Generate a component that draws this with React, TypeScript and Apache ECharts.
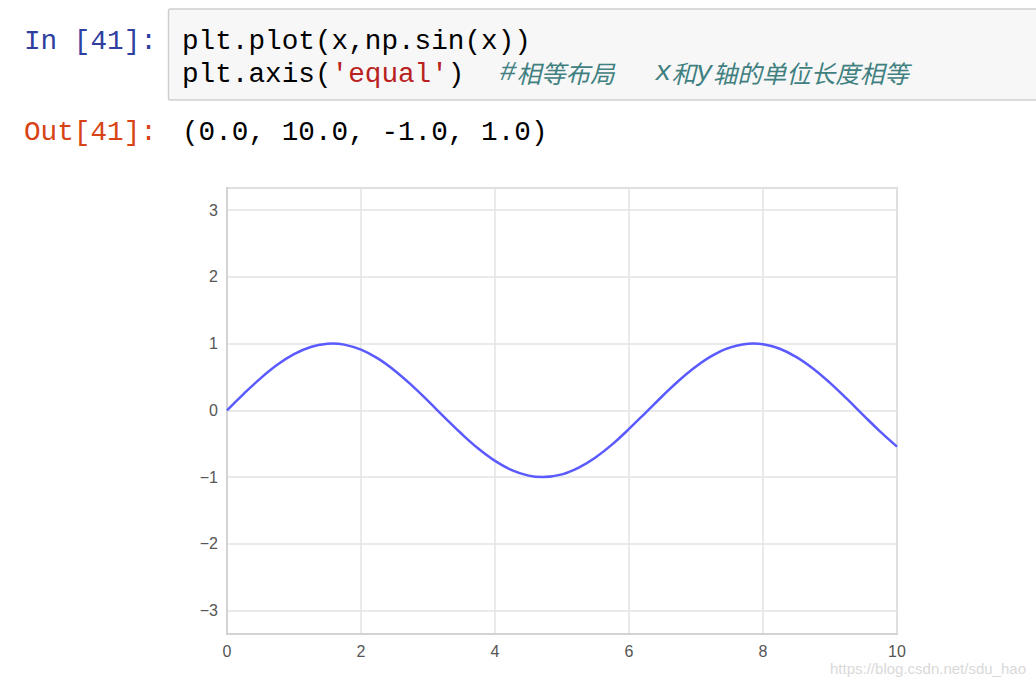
import React, { useEffect, useRef } from "react";
import * as echarts from "echarts";

// Sampled curve: x positions and y = sin(x) read at each x (crests and trough included)
const xValues = [
  0, 0.25, 0.5, 0.75, 1, 1.25, 1.5, 1.57, 1.75, 2, 2.25, 2.5, 2.75, 3, 3.25, 3.5, 3.75,
  4, 4.25, 4.5, 4.71, 5, 5.25, 5.5, 5.75, 6, 6.25, 6.5, 6.75, 7, 7.25, 7.5, 7.85,
  8, 8.25, 8.5, 8.75, 9, 9.25, 9.5, 9.75, 10,
];
const yValues = [
  0, 0.247, 0.479, 0.682, 0.841, 0.949, 0.997, 1.0, 0.984, 0.909, 0.778, 0.598, 0.382,
  0.141, -0.108, -0.351, -0.572, -0.757, -0.895, -0.978, -1.0, -0.959, -0.859,
  -0.706, -0.51, -0.279, -0.033, 0.215, 0.451, 0.657, 0.823, 0.938, 1.0, 0.989,
  0.923, 0.798, 0.624, 0.412, 0.174, -0.075, -0.319, -0.544,
];

// Axis limits
const xRange = [0, 10];
const yRange = [-3.35, 3.33];

// Notebook cell texts
const inPrompt = "In [41]:";
const outPrompt = "Out[41]:";
const codeLine1 = "plt.plot(x,np.sin(x))";
const outText = "(0.0, 10.0, -1.0, 1.0)";
const watermark = "https://blog.csdn.net/sdu_hao";

const MONO = "'Liberation Mono', 'DejaVu Sans Mono', monospace";
const SANS = "'Liberation Sans', Arial, sans-serif";
const CJK = "'Noto Sans CJK SC', sans-serif";
const MONO_SIZE = 27.7;

export default function App() {
  const ref = useRef<HTMLDivElement>(null);

  useEffect(() => {
    if (!ref.current) return;
    const chart = echarts.init(ref.current, null, { renderer: "svg" });

    const mono = (fill: string, italic = false) => ({
      fontFamily: MONO,
      fontSize: MONO_SIZE,
      fontStyle: italic ? "italic" : "normal",
      fill,
    });
    const cjk = (fill: string) => ({
      fontFamily: CJK,
      fontSize: 24.5,
      fontStyle: "italic",
      fill,
    });
    const commentColor = "#408080";

    const option: any = {
      animation: false,
      backgroundColor: "#ffffff",
      grid: {
        left: 227,
        top: 188,
        width: 670,
        height: 446,
        show: true,
        borderColor: "#d3d3d3",
        borderWidth: 2,
        backgroundColor: "transparent",
      },
      xAxis: {
        type: "value",
        min: xRange[0],
        max: xRange[1],
        interval: 2,
        axisLine: { show: true, onZero: false, lineStyle: { color: "#d3d3d3", width: 2 } },
        axisTick: { show: false },
        splitLine: { show: true, lineStyle: { color: "#e3e3e3", width: 1.5 } },
        axisLabel: {
          color: "#555555",
          fontSize: 16,
          fontFamily: SANS,
          margin: 9,
        },
      },
      yAxis: {
        type: "value",
        min: yRange[0],
        max: yRange[1],
        splitNumber: 6,
        axisLine: { show: true, onZero: false, lineStyle: { color: "#d3d3d3", width: 2 } },
        axisTick: { show: false },
        splitLine: { show: true, lineStyle: { color: "#e3e3e3", width: 1.5 } },
        axisLabel: {
          color: "#555555",
          fontSize: 16,
          fontFamily: SANS,
          margin: 9,
          showMinLabel: false,
          showMaxLabel: false,
          formatter: (v: number) => {
            if (Math.abs(v - Math.round(v)) > 1e-6) return "";
            const n = Math.round(v);
            return n < 0 ? "\u2212" + Math.abs(n) : String(n);
          },
        },
      },
      series: [
        {
          type: "line",
          data: xValues.map((x, i) => [x, yValues[i]]),
          showSymbol: false,
          smooth: 0.4,
          lineStyle: { color: "#5a5aff", width: 2.5, join: "round" },
        },
      ],
      graphic: [
        // code cell box
        {
          type: "rect",
          shape: { x: 168.5, y: 9, width: 880, height: 91, r: 2 },
          style: { fill: "#f7f7f7", stroke: "#cfcfcf", lineWidth: 1.5 },
          z: 0,
        },
        {
          type: "text",
          x: 24,
          y: 41,
          style: { text: inPrompt, ...mono("#303f9f"), verticalAlign: "middle" },
        },
        {
          type: "text",
          x: 182,
          y: 41,
          style: { text: codeLine1, ...mono("#000000"), verticalAlign: "middle" },
        },
        {
          type: "text",
          x: 182,
          y: 74,
          style: {
            text: "{k|plt.axis(}{s|'equal'}{k|)}",
            verticalAlign: "middle",
            rich: { k: mono("#000000"), s: mono("#ba2121") },
          },
        },
        {
          type: "text",
          x: 500,
          y: 72,
          style: {
            text: "{h|#}{c|相等布局}",
            verticalAlign: "middle",
            rich: { h: mono(commentColor, true), c: cjk(commentColor) },
          },
        },
        {
          type: "text",
          x: 655,
          y: 72,
          style: {
            text: "{h|x}{c|和}{h|y}{c|轴的单位长度相等}",
            verticalAlign: "middle",
            rich: { h: mono(commentColor, true), c: cjk(commentColor) },
          },
        },
        {
          type: "text",
          x: 24,
          y: 132,
          style: { text: outPrompt, ...mono("#d84315"), verticalAlign: "middle" },
        },
        {
          type: "text",
          x: 182,
          y: 132,
          style: { text: outText, ...mono("#000000"), verticalAlign: "middle" },
        },
        {
          type: "text",
          x: 1026,
          y: 668,
          style: {
            text: watermark,
            fontFamily: SANS,
            fontSize: 15,
            fill: "#d9d9d9",
            align: "right",
            verticalAlign: "middle",
          },
        },
      ],
    };

    chart.setOption(option);
    return () => chart.dispose();
  }, []);

  return (
    <div
      ref={ref}
      style={{ position: "fixed", left: 0, top: 0, width: 1036, height: 686, background: "#fff" }}
    />
  );
}
